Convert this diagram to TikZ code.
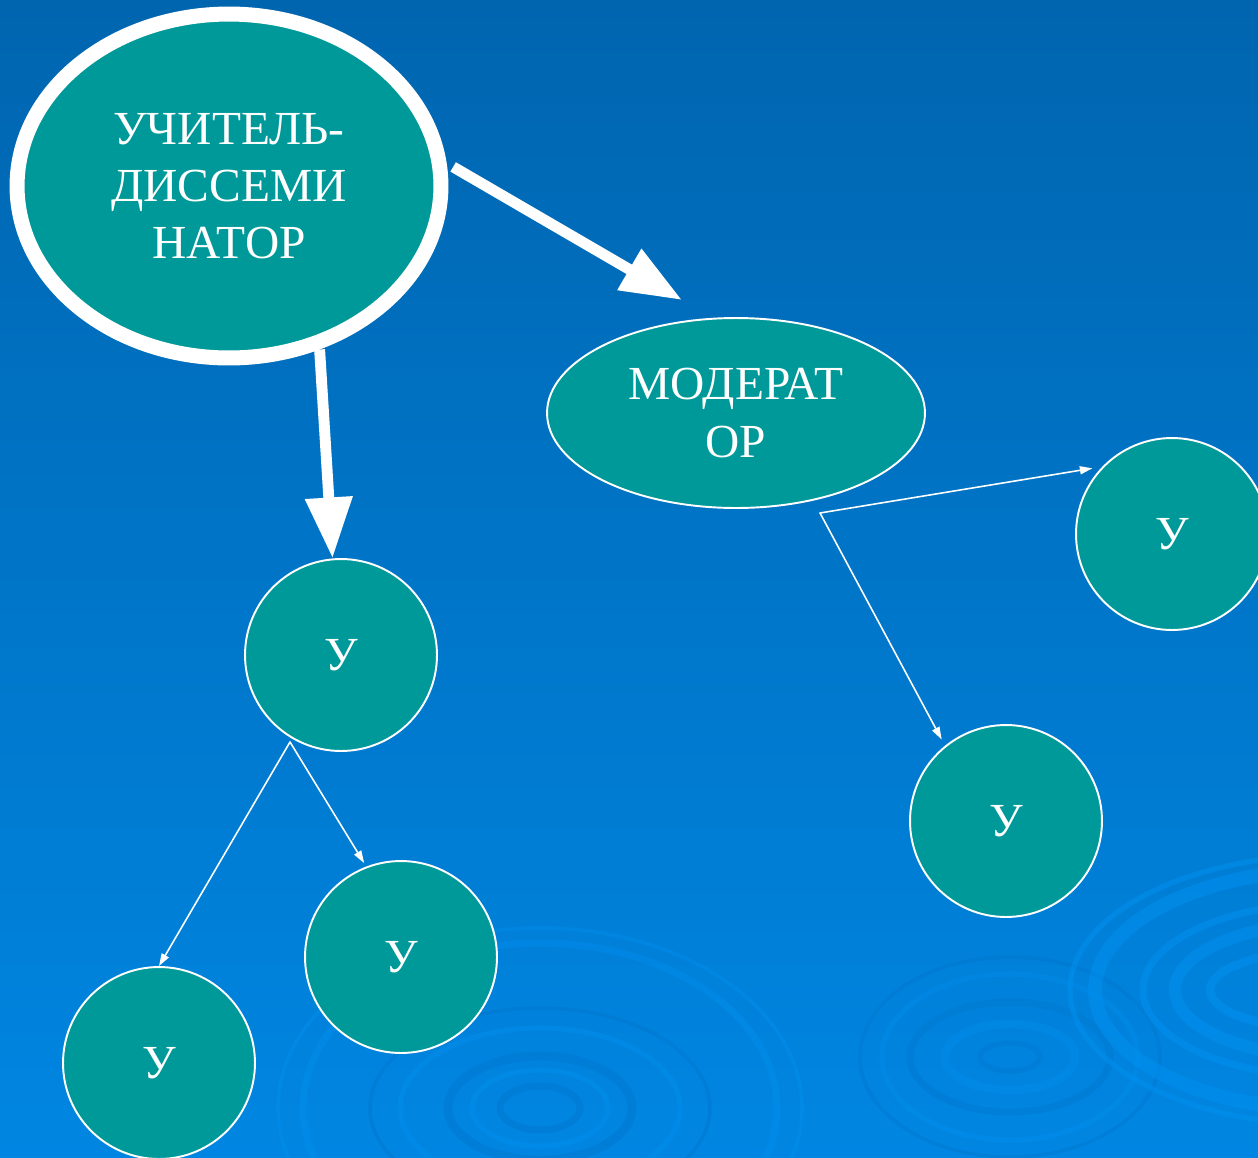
\documentclass[tikz,border=0pt]{standalone}
\usepackage{fontspec}
\setmainfont{Liberation Serif}
\usetikzlibrary{arrows.meta,shapes.geometric}

\definecolor{seatop}{RGB}{0,101,175}
\definecolor{seamid}{RGB}{0,110,190}
\definecolor{seabottom}{RGB}{0,134,226}
\definecolor{nodeteal}{RGB}{0,153,153}
\definecolor{ripplelight}{RGB}{0,145,240}
\definecolor{rippledark}{RGB}{0,116,202}

\begin{document}
\begin{tikzpicture}[x=0.02cm,y=-0.02cm,line cap=round,line join=round,
		role/.style={ellipse,fill=nodeteal,draw=white,text=white,align=center,inner sep=0pt,
			font=\fontsize{27}{32.5}\selectfont},
		pupil/.style={circle,fill=nodeteal,draw=white,line width=1.1pt,text=white,inner sep=0pt,
			minimum size=3.84cm,font=\fontsize{27}{32.5}\selectfont},
		bigarrow/.style={draw=white,line width=6.2pt,line cap=butt,-{Triangle[length=1.22cm,width=0.9cm]}},
		thinarrow/.style={draw=white,line width=0.9pt,-{Triangle[length=0.25cm,width=0.16cm]}}]
			\useasboundingbox (0,0) rectangle (1258,1157);
			\shade[top color=seatop, middle color=seamid, bottom color=seabottom] (0,0) rectangle (1258,1157);
			
			% ripples
			\begin{scope}
				\clip (0,0) rectangle (1258,1157);
				\foreach \rx/\ry/\w/\c in {40/22/4/rippledark, 68/38/3/ripplelight, 92/52/5/rippledark,
					140/80/3/ripplelight, 170/100/2/rippledark, 237/165/4/ripplelight, 262/180/2/ripplelight}{
						\draw[\c, opacity=.4, line width=\w pt] (540,1108) ellipse ({\rx} and {\ry});}
				\foreach \rx/\ry/\w/\c in {30/14/3/rippledark, 65/33/5/ripplelight, 100/55/4/rippledark,
					128/83/3/ripplelight, 150/100/2/rippledark}{
						\draw[\c, opacity=.35, line width=\w pt] (1010,1057) ellipse ({\rx} and {\ry});}
				\foreach \rx/\ry/\w in {120/40/5, 155/67/7, 187/87/4, 235/120/8, 260/135/3}{
						\draw[ripplelight, opacity=.5, line width=\w pt] (1330,990) ellipse ({\rx} and {\ry});}
			\end{scope}
			
			\node[role, line width=0.3cm, minimum width=8.48cm, minimum height=6.88cm] (teacher) at (229,186)
				{УЧИТЕЛЬ-\\ДИССЕМИ\\НАТОР};
			\node[role, line width=1.1pt, minimum width=7.56cm, minimum height=3.8cm] (moder) at (736,413)
				{МОДЕРАТ\\ОР};
			
			\node[pupil] (u1) at (341,655) {У};
			\node[pupil] (u2) at (401,957) {У};
			\node[pupil] (u3) at (159,1063) {У};
			\node[pupil] (u4) at (1172,534) {У};
			\node[pupil] (u5) at (1006,821) {У};
			
			\coordinate (tipA) at (682,300);
			\coordinate (ufork) at (290,742);
			\coordinate (mfork) at (820,513);
			
			\draw[bigarrow, shorten <=0.15cm] (teacher.6) -- (tipA);
			\draw[bigarrow] (teacher.-61) -- (u1.95);
			
			\draw[thinarrow] (ufork) -- (u3.north);
			\draw[thinarrow, shorten >=0.08cm] (ufork) -- (u2.111);
			\draw[thinarrow, shorten >=0.2cm] (mfork) -- (u4.136);
			\draw[thinarrow, shorten >=0.14cm] (mfork) -- (u5.129);
		\end{tikzpicture}
\end{document}
